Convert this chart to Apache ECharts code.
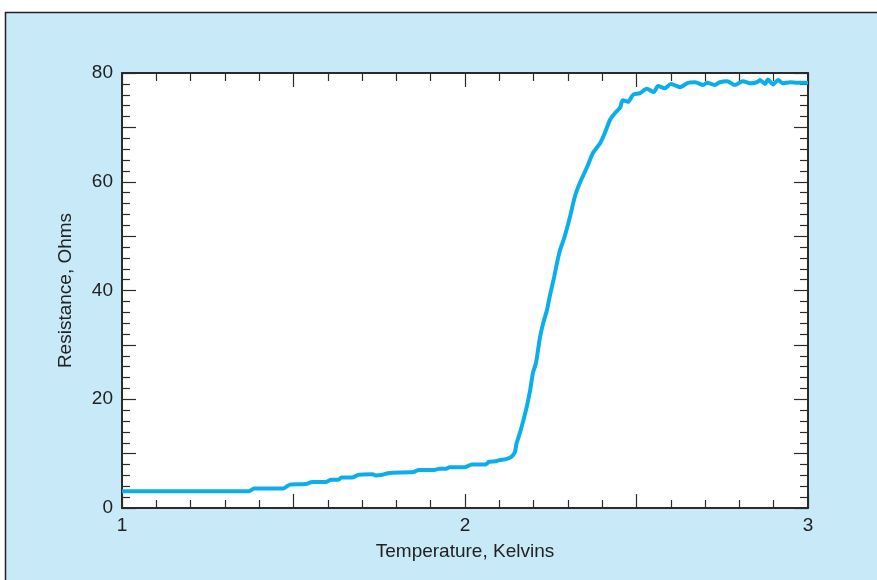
<!DOCTYPE html>
<html>
<head>
<meta charset="utf-8">
<script src="https://cdn.jsdelivr.net/npm/echarts@6/dist/echarts.min.js"></script>
<style>
  html, body { margin: 0; padding: 0; background: #fff; }
  #main { width: 877px; height: 580px; }
</style>
</head>
<body>
<div id="main"></div>
<script>
// temperature (K) and resistance (ohms)
var temperature = [1.00, 1.37, 1.385, 1.47, 1.49, 1.535, 1.555, 1.595, 1.61, 1.63,
  1.64, 1.67, 1.69, 1.73, 1.74, 1.76, 1.775, 1.79, 1.85, 1.865,
  1.91, 1.925, 1.945, 1.955, 2.00, 2.02, 2.06, 2.07, 2.09, 2.10,
  2.12, 2.135, 2.145, 2.15, 2.155, 2.165, 2.18, 2.19, 2.198, 2.207,
  2.213, 2.219, 2.228, 2.239, 2.248, 2.26, 2.268, 2.277, 2.29, 2.306,
  2.32, 2.335, 2.356, 2.373, 2.394, 2.408, 2.423, 2.437, 2.452, 2.46,
  2.475, 2.49, 2.51, 2.53, 2.55, 2.563, 2.583, 2.60, 2.627, 2.65,
  2.671, 2.694, 2.706, 2.729, 2.743, 2.764, 2.787, 2.81, 2.831, 2.851,
  2.86, 2.875, 2.883, 2.898, 2.913, 2.927, 2.948, 2.968, 3.00];
var resistance = [3.1, 3.1, 3.6, 3.6, 4.3, 4.4, 4.8, 4.8, 5.2, 5.2,
  5.6, 5.6, 6.1, 6.2, 6.0, 6.1, 6.4, 6.5, 6.6, 7.0,
  7.0, 7.2, 7.2, 7.5, 7.5, 8.0, 8.0, 8.5, 8.6, 8.8,
  9.0, 9.4, 10.2, 11.8, 12.8, 14.9, 18.6, 21.7, 24.8, 26.7,
  29.1, 31.5, 34.0, 36.4, 39.2, 42.5, 45.0, 47.4, 49.8, 53.5,
  57.2, 59.8, 62.7, 65.3, 67.1, 69.0, 71.4, 72.6, 73.6, 75.0,
  74.7, 76.0, 76.3, 77.1, 76.5, 77.6, 77.2, 78.0, 77.4, 78.2,
  78.3, 77.8, 78.2, 77.8, 78.3, 78.5, 77.8, 78.5, 78.1, 78.3,
  78.7, 78.0, 78.8, 77.9, 78.7, 78.1, 78.3, 78.2, 78.2];

var xLabels = [1, 2, 3];
var yLabels = [0, 20, 40, 60, 80];

var points = temperature.map(function (t, i) { return [t, resistance[i]]; });

var font = 'Liberation Sans, Arial, sans-serif';
var axisColor = '#2b2b2b';

function frameAxis(opts) {
    var base = {
        type: 'value',
        axisLine: { show: true, onZero: false, lineStyle: { color: axisColor, width: 2 } },
        axisTick: { show: true, inside: true, length: 14, lineStyle: { color: axisColor, width: 1.2 } },
        minorTick: { show: true, splitNumber: 5, length: 8, lineStyle: { color: axisColor, width: 1.2 } },
        splitLine: { show: false },
        minorSplitLine: { show: false },
        axisLabel: { show: false }
    };
    return Object.assign(base, opts);
}

var chartDom = document.getElementById('main');
var myChart = echarts.init(chartDom);
var option = {
    backgroundColor: '#ffffff',
    animation: false,
    graphic: [{
        type: 'rect',
        z: -10,
        shape: { x: 5.5, y: 12.5, width: 900, height: 600 },
        style: { fill: '#c7e9f8', stroke: '#222', lineWidth: 1.5 }
    }],
    grid: {
        left: 122, right: 69, top: 73, bottom: 72,
        show: true, backgroundColor: '#ffffff', borderWidth: 0,
        outerBoundsMode: 'none'
    },
    xAxis: [
        frameAxis({
            position: 'bottom', min: 1, max: 3, interval: 0.5,
            name: 'Temperature, Kelvins', nameLocation: 'middle', nameGap: 34,
            nameTextStyle: { fontFamily: font, fontSize: 19, color: '#222' },
            axisLabel: {
                show: true, margin: 8, fontFamily: font, fontSize: 19, color: '#222',
                formatter: function (v) { return xLabels.indexOf(v) >= 0 ? String(v) : ''; }
            }
        }),
        frameAxis({ position: 'top', min: 1, max: 3, interval: 0.5 })
    ],
    yAxis: [
        frameAxis({
            position: 'left', min: 0, max: 80, interval: 10,
            name: 'Resistance, Ohms', nameLocation: 'middle', nameGap: 47,
            nameTextStyle: { fontFamily: font, fontSize: 19, color: '#222' },
            axisLabel: {
                show: true, margin: 9, fontFamily: font, fontSize: 19, color: '#222',
                formatter: function (v) { return yLabels.indexOf(v) >= 0 ? String(v) : ''; }
            }
        }),
        frameAxis({ position: 'right', min: 0, max: 80, interval: 10 })
    ],
    series: [{
        type: 'line',
        xAxisIndex: 0,
        yAxisIndex: 0,
        data: points,
        showSymbol: false,
        smooth: 0.25,
        lineStyle: { color: '#0aaeea', width: 4 }
    }]
};
option && myChart.setOption(option);
</script>
</body>
</html>
